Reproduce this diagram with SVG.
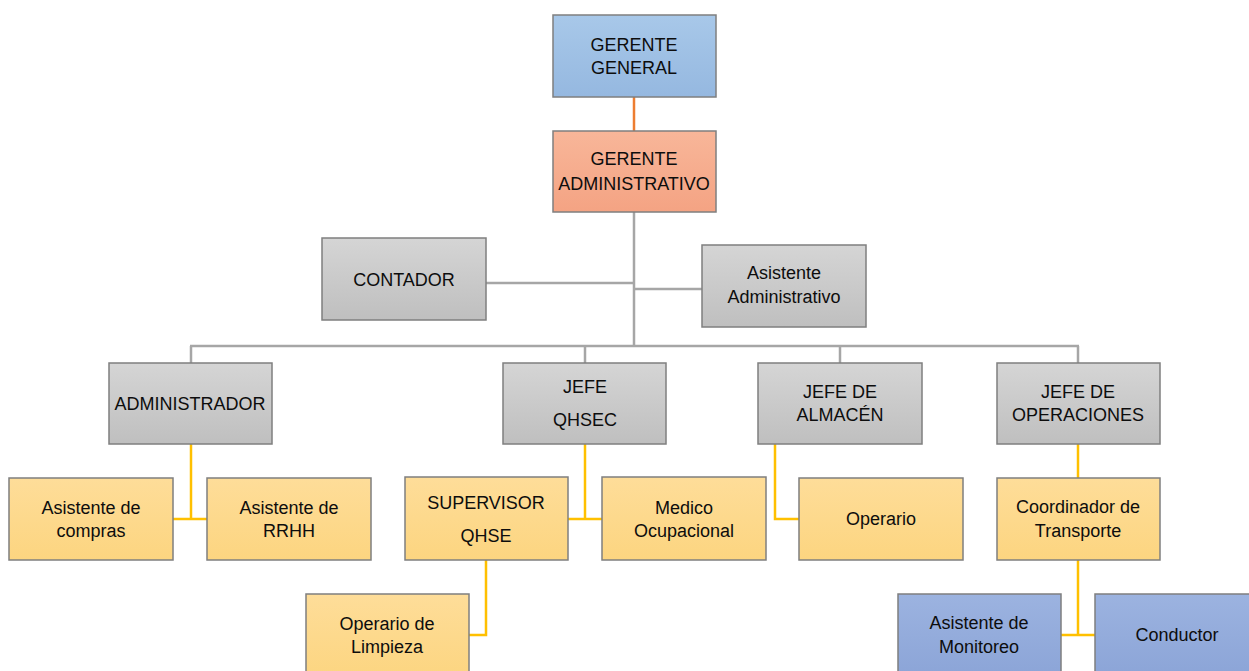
<svg xmlns="http://www.w3.org/2000/svg" width="1249" height="671" viewBox="0 0 1249 671">
<defs>
<linearGradient id="gBlue" x1="0" y1="0" x2="0" y2="1"><stop offset="0" stop-color="#a8c8e9"/><stop offset="1" stop-color="#95b8e0"/></linearGradient>
<linearGradient id="gSalmon" x1="0" y1="0" x2="0" y2="1"><stop offset="0" stop-color="#f8b699"/><stop offset="1" stop-color="#f4a383"/></linearGradient>
<linearGradient id="gGray" x1="0" y1="0" x2="0" y2="1"><stop offset="0" stop-color="#d5d5d5"/><stop offset="1" stop-color="#bfbfbf"/></linearGradient>
<linearGradient id="gYellow" x1="0" y1="0" x2="0" y2="1"><stop offset="0" stop-color="#fedd99"/><stop offset="1" stop-color="#fcd580"/></linearGradient>
<linearGradient id="gNavy" x1="0" y1="0" x2="0" y2="1"><stop offset="0" stop-color="#9cb3e0"/><stop offset="1" stop-color="#8ba4d7"/></linearGradient>
</defs>
<style>
rect{stroke:#7f7f7f;stroke-width:1.5}
.blue{fill:url(#gBlue)}
.salmon{fill:url(#gSalmon)}
.gray{fill:url(#gGray)}
.yellow{fill:url(#gYellow)}
.navy{fill:url(#gNavy)}
text{font-family:"Liberation Sans",Arial,sans-serif;font-size:18px;fill:#0d0d0d;text-anchor:middle}
.c line, .c polyline{fill:none;stroke-width:2.5}
.o{stroke:#ed7d31}
.g{stroke:#a6a6a6}
.y{stroke:#ffc000}
</style>
<g class="c" id="connectors">
<line class="o" x1="634" y1="97" x2="634" y2="131"/>
<line class="g" x1="634" y1="212" x2="634" y2="346"/>
<line class="g" x1="486" y1="283" x2="634" y2="283"/>
<line class="g" x1="634" y1="289" x2="702" y2="289"/>
<line class="g" x1="190" y1="346" x2="1079" y2="346"/>
<line class="g" x1="191" y1="346" x2="191" y2="363"/>
<line class="g" x1="585" y1="346" x2="585" y2="363"/>
<line class="g" x1="840" y1="346" x2="840" y2="363"/>
<line class="g" x1="1078" y1="346" x2="1078" y2="363"/>
<line class="y" x1="191" y1="444" x2="191" y2="519"/>
<line class="y" x1="173" y1="519" x2="207" y2="519"/>
<line class="y" x1="585" y1="444" x2="585" y2="519"/>
<line class="y" x1="568" y1="519" x2="602" y2="519"/>
<polyline class="y" points="486,560 486,635 469,635"/>
<polyline class="y" points="775,444 775,519 799,519"/>
<line class="y" x1="1078" y1="444" x2="1078" y2="478"/>
<line class="y" x1="1078" y1="560" x2="1078" y2="635"/>
<line class="y" x1="1061" y1="635" x2="1095" y2="635"/>
</g>
<g id="gerente-general"><rect class="blue" x="553" y="15" width="163" height="82"/><text x="634" y="51">GERENTE</text><text x="634" y="74">GENERAL</text></g>
<g id="gerente-administrativo"><rect class="salmon" x="553" y="131" width="163" height="81"/><text x="634" y="165">GERENTE</text><text x="634" y="190">ADMINISTRATIVO</text></g>
<g id="contador"><rect class="gray" x="322" y="238" width="164" height="82"/><text x="404" y="286">CONTADOR</text></g>
<g id="asistente-administrativo"><rect class="gray" x="702" y="245" width="164" height="82"/><text x="784" y="279">Asistente</text><text x="784" y="303">Administrativo</text></g>
<g id="administrador"><rect class="gray" x="109" y="363" width="163" height="81"/><text x="190" y="410">ADMINISTRADOR</text></g>
<g id="jefe-qhsec"><rect class="gray" x="503" y="363" width="163" height="81"/><text x="585" y="393">JEFE</text><text x="585" y="426">QHSEC</text></g>
<g id="jefe-almacen"><rect class="gray" x="758" y="363" width="164" height="81"/><text x="840" y="398">JEFE DE</text><text x="840" y="421">ALMACÉN</text></g>
<g id="jefe-operaciones"><rect class="gray" x="997" y="363" width="163" height="81"/><text x="1078" y="398">JEFE DE</text><text x="1078" y="421">OPERACIONES</text></g>
<g id="asistente-compras"><rect class="yellow" x="9" y="478" width="164" height="82"/><text x="91" y="514">Asistente de</text><text x="91" y="537">compras</text></g>
<g id="asistente-rrhh"><rect class="yellow" x="207" y="478" width="164" height="82"/><text x="289" y="514">Asistente de</text><text x="289" y="537">RRHH</text></g>
<g id="supervisor-qhse"><rect class="yellow" x="405" y="477" width="163" height="83"/><text x="486" y="509">SUPERVISOR</text><text x="486" y="542">QHSE</text></g>
<g id="medico-ocupacional"><rect class="yellow" x="602" y="477" width="164" height="83"/><text x="684" y="514">Medico</text><text x="684" y="537">Ocupacional</text></g>
<g id="operario"><rect class="yellow" x="799" y="478" width="164" height="82"/><text x="881" y="525">Operario</text></g>
<g id="coordinador-transporte"><rect class="yellow" x="997" y="478" width="163" height="82"/><text x="1078" y="513">Coordinador de</text><text x="1078" y="537">Transporte</text></g>
<g id="operario-limpieza"><rect class="yellow" x="306" y="594" width="163" height="85"/><text x="387" y="630">Operario de</text><text x="387" y="653">Limpieza</text></g>
<g id="asistente-monitoreo"><rect class="navy" x="898" y="594" width="163" height="85"/><text x="979" y="629">Asistente de</text><text x="979" y="653">Monitoreo</text></g>
<g id="conductor"><rect class="navy" x="1095" y="594" width="163" height="85"/><text x="1177" y="641">Conductor</text></g>
</svg>
